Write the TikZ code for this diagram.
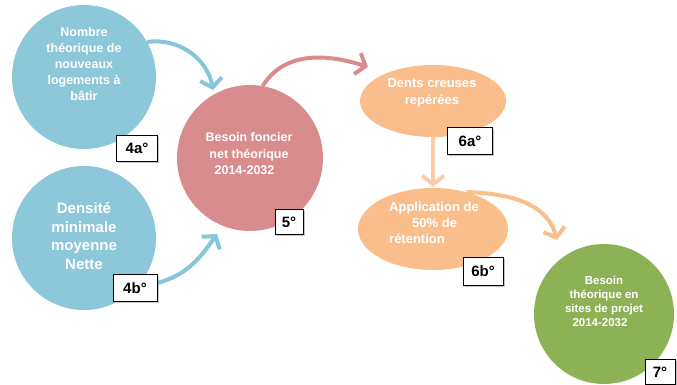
\documentclass[tikz,border=0pt]{standalone}
\usepackage{fontspec}
\setmainfont{Liberation Sans}
\usetikzlibrary{arrows.meta,shapes.geometric,shadows}
\pgfdeclarelayer{front}
\pgfsetlayers{main,front}
\definecolor{cblue}{HTML}{8CC7DA}
\definecolor{cblueline}{HTML}{86C6DA}
\definecolor{cpink}{HTML}{D98C8E}
\definecolor{corange}{HTML}{F9BE8C}
\definecolor{corangelight}{HTML}{F9CDAA}
\definecolor{cgreen}{HTML}{8DB255}
\begin{document}
\begin{tikzpicture}[x=1pt,y=1pt,
  bubble/.style={circle, inner sep=0pt, draw=none},
  oval/.style={ellipse, inner sep=0pt, draw=none},
  txt/.style={text=white, font=\bfseries, align=center, inner sep=0pt},
  tag/.style={draw=black, line width=0.9pt, fill=white, inner sep=0pt,
    font=\bfseries\fontsize{15}{15}\selectfont,
    drop shadow={shadow xshift=1.8pt, shadow yshift=-1.8pt, opacity=0.45}},
  flow/.style={line width=4pt, -{Straight Barb[length=8.5pt,width=22pt]}}
]
\useasboundingbox (0,0) rectangle (677,385);
% shapes
\node[bubble, fill=cblue, minimum size=144pt] (c4a) at (84,308) {};
\node[bubble, fill=cblue, minimum size=144pt] (c4b) at (84,147) {};
\node[bubble, fill=cpink, minimum size=146pt] (c5) at (250,227) {};
\node[oval, fill=corange, minimum width=146pt, minimum height=72pt] (e6a) at (433,284) {};
\node[oval, fill=corange, minimum width=150pt, minimum height=82pt] (e6b) at (433,156) {};
\node[bubble, fill=cgreen, minimum size=140pt] (c7) at (604,71) {};
% texts
\node[txt, font=\bfseries\fontsize{12.5}{16}\selectfont] (t4a) at (84,321)
  {Nombre\\théorique de\\nouveaux\\logements à\\bâtir};
\node[txt, font=\bfseries\fontsize{15}{18.5}\selectfont] (t4b) at (84,149)
  {Densité\\minimale\\moyenne\\Nette};
\node[txt, font=\bfseries\fontsize{12.5}{16.5}\selectfont] (t5) at (249,231)
  {Besoin foncier\\net théorique\\2014-2032\hspace*{9pt}};
\node[txt, font=\bfseries\fontsize{13}{17}\selectfont] (t6a) at (432,292)
  {Dents creuses\\repérées};
\node[txt, anchor=west, align=left, font=\bfseries\fontsize{13}{16}\selectfont] (t6b) at (389,162)
  {Application de\\\hspace*{23pt}50\% de\\rétention};
\node[txt, font=\bfseries\fontsize{11.5}{14}\selectfont] (t7) at (604,84)
  {Besoin\\théorique en\\sites de projet\\2014-2032\hspace*{8pt}};
% tags (on the front layer)
\begin{pgfonlayer}{front}
\node[tag, minimum width=41pt, minimum height=26pt] (l4a) at (137,237) {4a°};
\node[tag, minimum width=44pt, minimum height=27pt] (l4b) at (135,97) {4b°};
\node[tag, minimum width=28pt, minimum height=25pt] (l5) at (289,163) {5°};
\node[tag, minimum width=45pt, minimum height=27pt] (l6a) at (470,244) {6a°};
\node[tag, minimum width=40pt, minimum height=28pt] (l6b) at (483,114) {6b°};
\node[tag, minimum width=30pt, minimum height=25pt] (l7) at (660,13) {7°};
\end{pgfonlayer}
% connectors
\coordinate (a1end) at (213,295);
\coordinate (a2end) at (217,151);
\coordinate (a3end) at (368,318);
\coordinate (a5end) at (557,145);
\draw[flow, draw=cblueline] (c4a.29) to[out=8, in=100] (a1end);
\draw[flow, draw=cblueline] ([yshift=5pt]l4b.east) to[out=15, in=235] (a2end);
\draw[flow, draw=cpink] (c5.80) to[out=58, in=162] (a3end);
\draw[flow, draw=corangelight, shorten >=1pt] (e6a) -- (e6b);
\draw[flow, draw=corange] (e6b.48) to[out=-2, in=105] (a5end);
\end{tikzpicture}
\end{document}
